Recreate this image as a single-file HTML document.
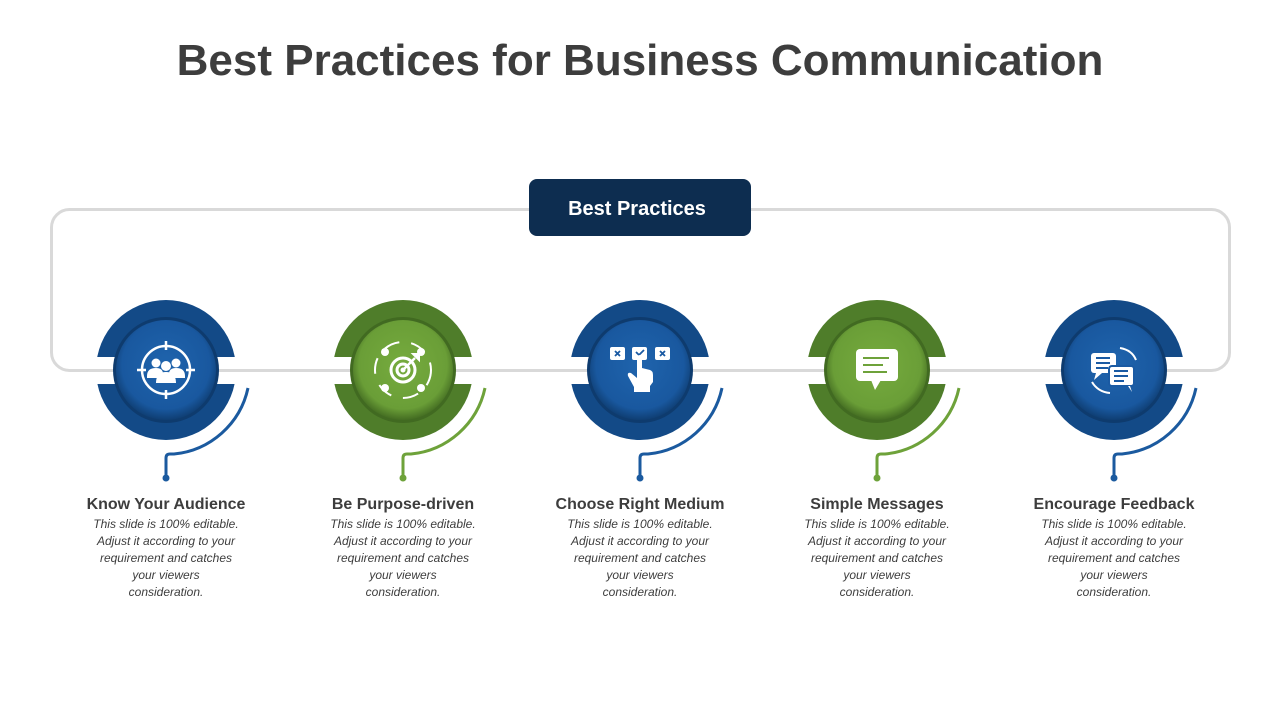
<!DOCTYPE html>
<html><head><meta charset="utf-8"><style>
html,body{margin:0;padding:0;background:#fff;}
svg{display:block;}
text{font-family:"Liberation Sans",sans-serif;}
</style></head><body>
<svg width="1280" height="720" viewBox="0 0 1280 720" xmlns="http://www.w3.org/2000/svg">
<defs>
<radialGradient id="gb" cx="50%" cy="45%" r="55%"><stop offset="0" stop-color="#1f64ad"/><stop offset="0.8" stop-color="#19589f"/><stop offset="1" stop-color="#0f3e73"/></radialGradient>
<radialGradient id="gg" cx="50%" cy="45%" r="55%"><stop offset="0" stop-color="#76ab3e"/><stop offset="0.8" stop-color="#6a9e37"/><stop offset="1" stop-color="#446d22"/></radialGradient>
<g id="outer-b">
  <circle r="70" fill="#134a87"/>
  <rect x="-80" y="-13" width="160" height="27" fill="#fff"/>
  <path d="M82,18 A84,84 0 0 1 8,84 L4,84 Q0,84 0,88 L0,108" fill="none" stroke="#1b5a9f" stroke-width="3"/>
  <circle cx="0" cy="108" r="3.5" fill="#1b5a9f"/>
</g>
<g id="outer-g">
  <circle r="70" fill="#4f7d2a"/>
  <rect x="-80" y="-13" width="160" height="27" fill="#fff"/>
  <path d="M82,18 A84,84 0 0 1 8,84 L4,84 Q0,84 0,88 L0,108" fill="none" stroke="#6ea23a" stroke-width="3"/>
  <circle cx="0" cy="108" r="3.5" fill="#6ea23a"/>
</g>
<g id="inner-b"><circle r="53" fill="#0e3b6e"/><circle r="50" fill="url(#gb)"/></g>
<g id="inner-g"><circle r="53" fill="#416a21"/><circle r="50" fill="url(#gg)"/></g>
</defs>
<text x="640" y="75" text-anchor="middle" font-size="44" font-weight="bold" fill="#3d3d3d">Best Practices for Business Communication</text>

<use href="#outer-b" x="166" y="370"/>
<use href="#outer-g" x="403" y="370"/>
<use href="#outer-b" x="640" y="370"/>
<use href="#outer-g" x="877" y="370"/>
<use href="#outer-b" x="1114" y="370"/>

<rect x="51.5" y="209.5" width="1178" height="161" rx="18" fill="none" stroke="#d9d9d9" stroke-width="3"/>
<rect x="529" y="179" width="222" height="57" rx="8" fill="#0d2d50"/>
<text x="637" y="215" text-anchor="middle" font-size="20" font-weight="bold" fill="#fff">Best Practices</text>

<use href="#inner-b" x="166" y="370"/>
<use href="#inner-g" x="403" y="370"/>
<use href="#inner-b" x="640" y="370"/>
<use href="#inner-g" x="877" y="370"/>
<use href="#inner-b" x="1114" y="370"/>

<!-- icon 1 -->
<g transform="translate(166,370)" fill="#fff" stroke="#fff">
  <circle r="24" fill="none" stroke-width="2.5"/>
  <path d="M0,-29V-20M0,20V29M-29,0H-20M20,0H29" stroke-width="2.5"/>
  <g stroke="none"><circle cx="-10" cy="-7" r="4.5"/><circle cx="10" cy="-7" r="4.5"/><circle cx="0" cy="-4" r="5"/>
  <path d="M-19,6 Q-19,-2 -10,-2 Q-3,-2 -3,4 L-3,8 H-19Z"/><path d="M19,6 Q19,-2 10,-2 Q3,-2 3,4 L3,8 H19Z"/>
  <path d="M-10,13 Q-10,2 0,2 Q10,2 10,13Z"/></g>
</g>
<!-- icon 2 -->
<g transform="translate(403,370)" fill="#fff" stroke="#fff">
  <circle r="28" fill="none" stroke-width="2" stroke-dasharray="16 12"/>
  <circle cx="-18" cy="-18" r="4" stroke="none"/><circle cx="18" cy="-18" r="4" stroke="none"/><circle cx="-18" cy="18" r="4" stroke="none"/><circle cx="18" cy="18" r="4" stroke="none"/>
  <circle r="12" fill="none" stroke-width="3"/><circle r="6" fill="none" stroke-width="3"/><circle r="2"/>
  <path d="M0,0 L12,-12" stroke-width="2.5"/><path d="M10,-16 L16,-16 L16,-10Z" stroke-width="2"/>
</g>
<!-- icon 3 -->
<g transform="translate(640,370)" fill="#fff">
  <rect x="-30" y="-23" width="15" height="13" rx="2"/><rect x="-8" y="-23" width="15" height="13" rx="2"/><rect x="15" y="-23" width="15" height="13" rx="2"/>
  <path d="M-25,-19l5,5m0,-5l-5,5M20,-19l5,5m0,-5l-5,5" stroke="#1a5aa3" stroke-width="1.8"/>
  <path d="M-4,-18l3,3l5,-5" stroke="#1a5aa3" stroke-width="1.8" fill="none"/>
  <path d="M-3,-12 Q-3,-15 0,-15 Q2,-15 2,-12 V-2 L10,0 Q13,1 13,5 V12 L10,16 V22 H-6 V17 L-12,6 Q-13,2 -9,3 L-3,8Z"/>
</g>
<!-- icon 4 -->
<g transform="translate(877,370)" fill="#fff">
  <rect x="-21" y="-21" width="42" height="32" rx="4"/><path d="M-6,10 L-2,20 L4,10Z"/>
  <path d="M-14,-12H12M-14,-5H6M-14,2H10" stroke="#6ea23a" stroke-width="2"/>
</g>
<!-- icon 5 -->
<g transform="translate(1114,370)" fill="#fff">
  <rect x="-23" y="-17" width="25" height="20" rx="3"/><path d="M-18,3 L-20,10 L-12,3Z"/>
  <rect x="-5" y="-4" width="25" height="20" rx="3" stroke="#1a5aa3" stroke-width="2"/><path d="M14,16 L18,22 L16,16Z"/>
  <path d="M-18,-12H-4M-18,-7H-4M-18,-2H-6M0,1H14M0,6H14M0,11H10" stroke="#1a5aa3" stroke-width="2"/>
  <path d="M6,-22 Q18,-20 22,-10" fill="none" stroke="#fff" stroke-width="2"/><path d="M-22,12 Q-16,22 -4,23" fill="none" stroke="#fff" stroke-width="2"/>
</g>

<g font-size="16" font-weight="bold" fill="#3d3d3d" text-anchor="middle">
  <text x="166" y="509">Know Your Audience</text>
  <text x="403" y="509">Be Purpose-driven</text>
  <text x="640" y="509">Choose Right Medium</text>
  <text x="877" y="509">Simple Messages</text>
  <text x="1114" y="509">Encourage Feedback</text>
</g>
<g font-size="12" font-style="italic" fill="#3d3d3d" text-anchor="middle">
  <g id="body">
  <text x="166" y="528">This slide is 100% editable.</text>
  <text x="166" y="545">Adjust it according to your</text>
  <text x="166" y="562">requirement and catches</text>
  <text x="166" y="579">your viewers</text>
  <text x="166" y="596">consideration.</text>
  </g>
  <use href="#body" x="237"/>
  <use href="#body" x="474"/>
  <use href="#body" x="711"/>
  <use href="#body" x="948"/>
</g>
</svg>
</body></html>
